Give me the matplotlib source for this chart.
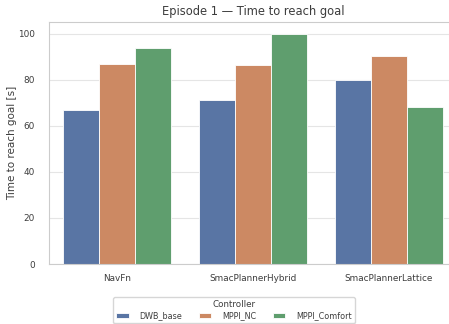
import matplotlib
matplotlib.use("Agg")
import matplotlib.pyplot as plt
import numpy as np
import seaborn as sns

# Planners on the x axis, one bar per controller
planners = ["NavFn", "SmacPlannerHybrid", "SmacPlannerLattice"]
controllers = ["DWB_base", "MPPI_NC", "MPPI_Comfort"]

dwb_base = [67.0, 71.3, 79.7]
mppi_nc = [86.8, 86.4, 90.2]
mppi_comfort = [93.8, 99.9, 68.0]

sns.set_theme(style="whitegrid")
text_color = "#3d3d3d"
plt.rcParams.update({
    "text.color": text_color,
    "axes.labelcolor": text_color,
    "xtick.color": text_color,
    "ytick.color": text_color,
})
# seaborn barplot mutes its fills with saturation=0.75
palette = [sns.desaturate(c, 0.75) for c in sns.color_palette("deep")[:3]]

fig = plt.figure(figsize=(4.49, 3.24), dpi=100)
ax = fig.add_axes([0.109, 0.185, 0.909, 0.747])

x = np.arange(len(planners))
width = 0.8 / 3
for i, (name, vals) in enumerate(zip(controllers, [dwb_base, mppi_nc, mppi_comfort])):
    ax.bar(x + (i - 1) * width, vals, width, color=palette[i],
           edgecolor="white", linewidth=0.6, label=name)

ax.set_xlim(-0.5, 2.5)
ax.set_ylim(0, 105)
ax.set_xticks(x)
ax.set_xticklabels(planners)
ax.tick_params(axis="y", labelsize=6.4, pad=4)
ax.tick_params(axis="x", labelsize=6.4, pad=1)
ax.set_ylabel("Time to reach goal [s]", fontsize=7.5, labelpad=0.5)
ax.set_title("Episode 1 — Time to reach goal", fontsize=8.3, pad=5)
for s in ax.spines.values():
    s.set_color("#cccccc")
    s.set_linewidth(0.8)
ax.grid(axis="y", color="#e5e5e5", linewidth=0.8)
ax.grid(axis="x", visible=False)

fig.legend(loc="upper center", bbox_to_anchor=(0.521, 0.095), ncol=3,
           title="Controller", fontsize=5.8, title_fontsize=6.3,
           handlelength=1.6, handleheight=0.5, handletextpad=1.35,
           columnspacing=2.0, borderpad=0.35, labelspacing=0.3)

fig.savefig("out.png", dpi=100)
